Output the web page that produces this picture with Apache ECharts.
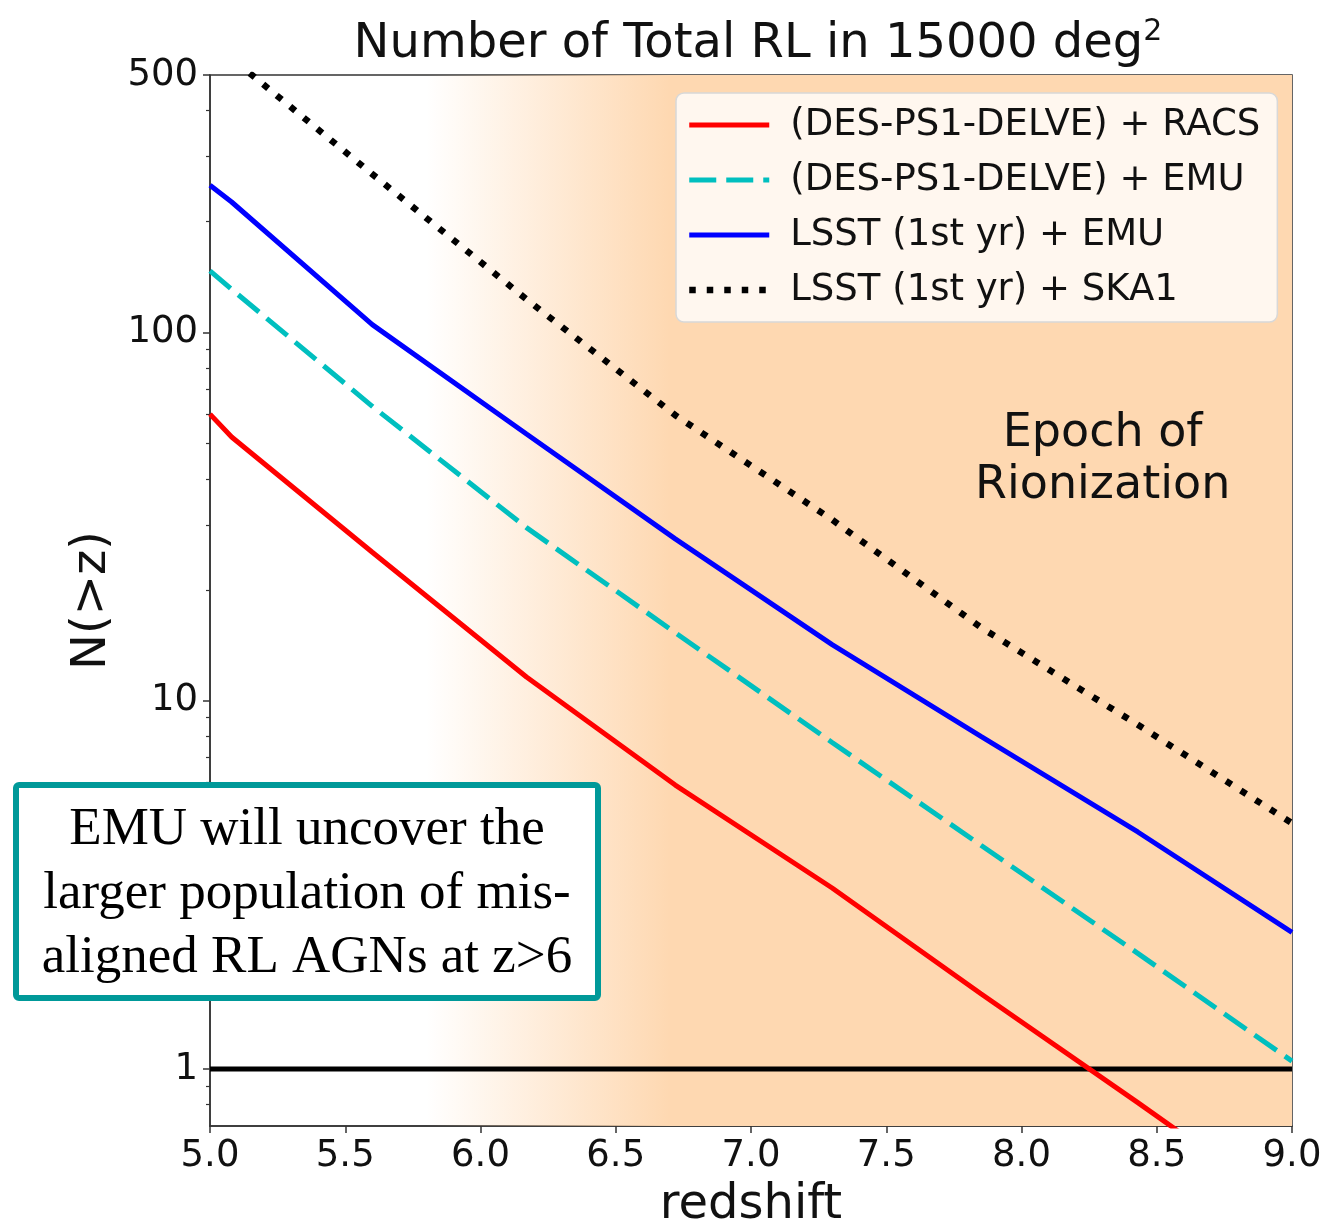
<!DOCTYPE html>
<html>
<head>
<meta charset="utf-8">
<script src="https://cdn.jsdelivr.net/npm/echarts@6/dist/echarts.min.js"></script>
<style>
  html, body { margin: 0; padding: 0; background: #fff; }
  #main { width: 1327px; height: 1222px; }
</style>
</head>
<body>
<div id="main"></div>
<script>
// redshift grid
const redshift = [5.0, 5.08, 5.6, 6.17, 6.72, 7.3, 7.85, 8.43, 9.0];

// N(>z) for each survey combination
const desRacs = [60, 52, 25.3, 11.6, 5.9, 3.1, 1.6, 0.81, 0.41];
const desEmu = [147, 131, 63, 29.5, 15.3, 7.7, 4.05, 2.06, 1.05];
const lsstEmu = [251, 226, 105, 53, 27.5, 14.2, 8.0, 4.4, 2.35];
const lsstSka = [627, 555, 269, 123, 59.6, 31, 15.8, 8.6, 4.65];

const seriesNames = ['(DES-PS1-DELVE) + RACS', '(DES-PS1-DELVE) + EMU', 'LSST (1st yr) + EMU', 'LSST (1st yr) + SKA1'];

// reference line N = 1
const oneLine = [[5.0, 1], [9.0, 1]];

// ticks
const yMajor = [1, 10, 100, 500];
const yMinor = [0.8, 0.9, 2, 3, 4, 5, 6, 7, 8, 9, 20, 30, 40, 50, 60, 70, 80, 90, 200, 300, 400];

// epoch of reionization shading (redshift where it fades in / is full)
const eorStart = 5.8;
const eorFull = 6.7;
const peach = '254,216,177';

const toPairs = (ys) => redshift.map((z, i) => [z, ys[i]]);

const chart = echarts.init(document.getElementById('main'));
const font = 'DejaVu Sans';

chart.setOption({
  animation: false,
  backgroundColor: '#fff',
  title: {
    text: '{a|Number of Total RL in 15000 deg}{s|2}',
    left: 753,
    top: 12,
    textAlign: 'center',
    textStyle: {
      fontWeight: 'normal',
      rich: {
        a: { fontSize: 48, fontFamily: font, fontWeight: 'normal', color: '#111', lineHeight: 56 },
        s: { fontSize: 30, fontFamily: font, fontWeight: 'normal', color: '#111', lineHeight: 34, verticalAlign: 'top' }
      }
    }
  },
  grid: {
    left: 210, right: 35, top: 75, bottom: 96,
    outerBoundsMode: 'none',
    containLabel: false,
    show: true,
    borderColor: '#333',
    borderWidth: 1.5,
    backgroundColor: 'transparent'
  },
  legend: {
    data: seriesNames,
    orient: 'vertical',
    left: 676,
    top: 93,
    padding: [11, 17, 11, 10],
    itemGap: 13,
    itemWidth: 80,
    itemHeight: 14,
    selectedMode: false,
    backgroundColor: 'rgba(255,255,255,0.8)',
    borderColor: '#d8d8d8',
    borderWidth: 1.5,
    borderRadius: 8,
    lineStyle: { width: 'inherit' },
    itemStyle: { opacity: 0 },
    textStyle: {
      fontSize: 37, fontFamily: font, color: '#111',
      lineHeight: 42, padding: [0, 0, 0, 16]
    }
  },
  xAxis: {
    type: 'value',
    min: 5,
    max: 9,
    interval: 0.5,
    name: 'redshift',
    nameLocation: 'middle',
    nameGap: 56,
    nameTextStyle: { fontSize: 48, fontFamily: font, color: '#111' },
    axisLine: { lineStyle: { color: '#333', width: 1.5 } },
    axisTick: { inside: false, length: 7, lineStyle: { color: '#333', width: 1.5 } },
    axisLabel: {
      fontSize: 37, fontFamily: font, color: '#111', margin: 12,
      formatter: (v) => v.toFixed(1)
    },
    splitLine: { show: false }
  },
  yAxis: [
    {
      type: 'log',
      logBase: 10,
      min: 0.7,
      max: 500,
      name: 'N(>z)',
      nameLocation: 'middle',
      nameRotate: 90,
      nameGap: 84,
      nameTextStyle: { fontSize: 48, fontFamily: font, color: '#111' },
      axisLine: { show: true, lineStyle: { color: '#333', width: 1.5 } },
      axisTick: { show: true, length: 7, customValues: yMajor, lineStyle: { color: '#333', width: 1.5 } },
      axisLabel: {
        fontSize: 37, fontFamily: font, color: '#111', margin: 12,
        customValues: yMajor,
        formatter: (v) => String(Math.round(v))
      },
      splitLine: { show: false }
    },
    {
      // minor ticks only
      type: 'log',
      logBase: 10,
      min: 0.7,
      max: 500,
      position: 'left',
      axisLine: { show: false },
      axisTick: { show: true, length: 4, customValues: yMinor, lineStyle: { color: '#333', width: 1.2 } },
      axisLabel: { show: false },
      splitLine: { show: false }
    }
  ],
  series: [
    {
      name: 'N=1',
      type: 'line',
      data: oneLine,
      symbol: 'none',
      silent: true,
      z: 2,
      lineStyle: { color: '#000', width: 5 },
      markArea: {
        silent: true,
        itemStyle: {
          color: {
            type: 'linear', x: 0, y: 0, x2: 1, y2: 0,
            colorStops: [
              { offset: 0, color: 'rgba(' + peach + ',0)' },
              { offset: (eorFull - eorStart) / (9 - eorStart), color: 'rgba(' + peach + ',1)' },
              { offset: 1, color: 'rgba(' + peach + ',1)' }
            ]
          }
        },
        data: [[{ xAxis: eorStart }, { xAxis: 9 }]]
      }
    },
    {
      name: seriesNames[0],
      type: 'line',
      data: toPairs(desRacs),
      symbol: 'none',
      z: 3,
      lineStyle: { color: '#ff0000', width: 5 }
    },
    {
      name: seriesNames[1],
      type: 'line',
      data: toPairs(desEmu),
      symbol: 'none',
      z: 3,
      lineStyle: { color: '#00bfbf', width: 5, type: [27, 10] }
    },
    {
      name: seriesNames[2],
      type: 'line',
      data: toPairs(lsstEmu),
      symbol: 'none',
      z: 3,
      lineStyle: { color: '#0000ff', width: 5 }
    },
    {
      name: seriesNames[3],
      type: 'line',
      data: toPairs(lsstSka),
      symbol: 'none',
      z: 3,
      lineStyle: { color: '#000', width: 6.5, type: [6.5, 11] }
    }
  ]
});

// annotations
const eorPos = chart.convertToPixel({ gridIndex: 0 }, [8.3, 45]);
chart.setOption({
  graphic: [
    {
      type: 'text',
      x: eorPos[0],
      y: eorPos[1],
      z: 50,
      style: {
        text: 'Epoch of\nRionization',
        fontSize: 46,
        fontFamily: font,
        fill: '#111',
        align: 'center',
        verticalAlign: 'middle',
        lineHeight: 52
      }
    },
    {
      type: 'group',
      z: 100,
      children: [
        {
          type: 'rect',
          z: 100,
          shape: { x: 16, y: 785, width: 582, height: 213, r: 3 },
          style: { fill: '#fff', stroke: '#009999', lineWidth: 6 }
        },
        {
          type: 'text',
          z: 101,
          x: 307,
          y: 894,
          style: {
            text: 'EMU will uncover the\nlarger population of mis-\naligned RL AGNs at z>6',
            fontSize: 53,
            fontFamily: 'Liberation Serif',
            fill: '#000',
            align: 'center',
            verticalAlign: 'middle',
            lineHeight: 64
          }
        }
      ]
    }
  ]
});

window.onresize = function () {
  chart.resize();
};
</script>
</body>
</html>
